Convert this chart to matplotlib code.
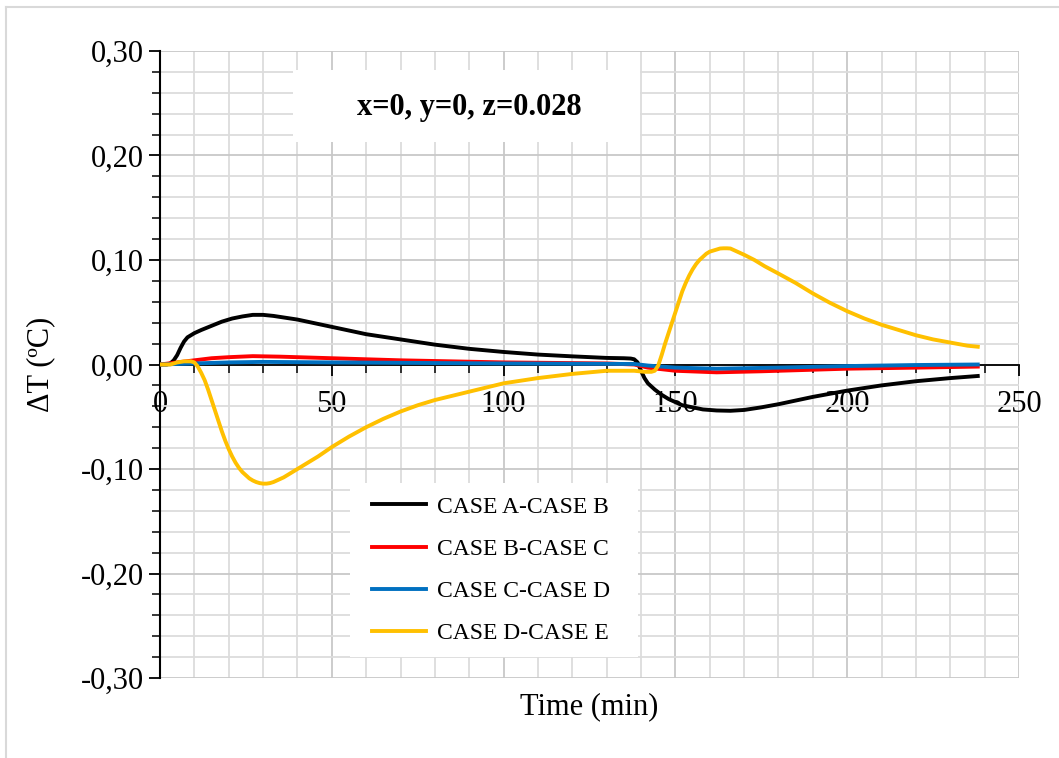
import matplotlib
matplotlib.use("Agg")
import matplotlib.pyplot as plt
from matplotlib.ticker import MultipleLocator, FuncFormatter
from matplotlib.patches import Rectangle
from matplotlib.lines import Line2D

plt.rcParams['font.family'] = ['Liberation Serif', 'DejaVu Serif']

# data
t_ab = [0, 2, 3, 4, 5, 6, 7, 8, 10, 12, 15, 18, 21, 24, 27, 30, 33, 36, 40, 45, 50, 55, 60, 70,
        80, 90, 100, 110, 120, 130, 135, 137, 138, 139, 140, 141, 142, 144, 146, 148, 150, 152,
        155, 158, 162, 166, 170, 175, 180, 190, 200, 210, 220, 230, 238]
d_ab = [0, 0, 0.001, 0.004, 0.009, 0.016, 0.022, 0.026, 0.030, 0.033, 0.037, 0.041, 0.044,
        0.046, 0.0475, 0.0475, 0.0465, 0.045, 0.043, 0.0395, 0.036, 0.0325, 0.029, 0.024,
        0.019, 0.015, 0.012, 0.0095, 0.0078, 0.0063, 0.006, 0.0057, 0.005, 0.002, -0.006,
        -0.013, -0.018, -0.024, -0.029, -0.033, -0.036, -0.039, -0.041, -0.043, -0.044,
        -0.0443, -0.0435, -0.041, -0.038, -0.031, -0.025, -0.020, -0.016, -0.013, -0.011]

t_bc = [0, 5, 10, 15, 20, 27, 35, 50, 70, 100, 130, 138, 142, 150, 162, 175, 200, 220, 238]
d_bc = [0, 0.002, 0.004, 0.006, 0.007, 0.008, 0.0075, 0.006, 0.004, 0.002, 0.001, 0.0,
        -0.003, -0.006, -0.0075, -0.0065, -0.004, -0.003, -0.002]

t_cd = [0, 10, 20, 30, 50, 100, 138, 142, 150, 162, 180, 200, 220, 238]
d_cd = [0, 0.001, 0.002, 0.0025, 0.002, 0.001, 0.0005, -0.001, -0.003, -0.004, -0.003,
        -0.0015, -0.0005, 0.0]

t_de = [0, 3, 5, 7, 9, 10, 11, 12, 13, 14, 15, 16, 17, 18, 19, 20, 21, 22, 23, 24, 25, 26,
        27, 28, 29, 30, 31, 32, 33, 34, 36, 38, 40, 43, 46, 50, 55, 60, 65, 70, 75, 80, 90,
        100, 110, 120, 130, 138, 141, 143, 144, 145, 146, 147, 148, 149, 150, 151, 152, 153,
        154, 155, 156, 157, 158, 159, 160, 161, 162, 163, 164, 165, 166, 168, 170, 173, 176,
        180, 185, 190, 195, 200, 205, 210, 215, 220, 225, 230, 235, 238]
d_de = [0, 0.0, 0.002, 0.003, 0.003, 0.002, -0.002, -0.008, -0.015, -0.024, -0.034, -0.044,
        -0.054, -0.064, -0.073, -0.081, -0.088, -0.094, -0.099, -0.103, -0.106, -0.109,
        -0.111, -0.1125, -0.1135, -0.114, -0.114, -0.1135, -0.1125, -0.111, -0.108, -0.104,
        -0.100, -0.094, -0.088, -0.079, -0.069, -0.060, -0.052, -0.045, -0.039, -0.034, -0.026,
        -0.018, -0.013, -0.009, -0.006, -0.006, -0.007, -0.007, -0.006, -0.001, 0.009, 0.020,
        0.030, 0.040, 0.050, 0.060, 0.070, 0.078, 0.085, 0.091, 0.096, 0.100, 0.103, 0.106,
        0.108, 0.109, 0.110, 0.111, 0.1112, 0.1112, 0.111, 0.108, 0.105, 0.100, 0.094,
        0.087, 0.078, 0.068, 0.059, 0.051, 0.044, 0.038, 0.033, 0.028, 0.024, 0.021, 0.018, 0.017]

labels = ['CASE A-CASE B', 'CASE B-CASE C', 'CASE C-CASE D', 'CASE D-CASE E']
colors = ['#000000', '#FF0000', '#0070C0', '#FFC000']

fig = plt.figure(figsize=(10.59, 7.58), dpi=100)
ax = fig.add_axes([160/1059, 1-678/758, 859/1059, 627/758])

for tx, dy, lab, col in zip([t_ab, t_bc, t_cd, t_de], [d_ab, d_bc, d_cd, d_de], labels, colors):
    ax.plot(tx, dy, color=col, lw=2.8, label=lab, zorder=3, solid_joinstyle='round')

ax.set_xlim(0, 250)
ax.set_ylim(-0.30, 0.30)
ax.xaxis.set_major_locator(MultipleLocator(50))
ax.xaxis.set_minor_locator(MultipleLocator(10))
ax.yaxis.set_major_locator(MultipleLocator(0.10))
ax.yaxis.set_minor_locator(MultipleLocator(0.02))
ax.yaxis.set_major_formatter(FuncFormatter(lambda v, p: f"{v:.2f}".replace('.', ',').replace('-0,00', '0,00')))

ax.grid(which='major', color='#c8c8c8', lw=1.3, zorder=0)
ax.grid(which='minor', color='#dcdcdc', lw=1.3, zorder=0)
ax.set_axisbelow(True)

ax.spines['top'].set_visible(False)
ax.spines['right'].set_visible(False)
ax.spines['bottom'].set_position(('data', 0))
ax.spines['bottom'].set_linewidth(1.3)
ax.spines['left'].set_linewidth(1.5)
ax.spines['bottom'].set_zorder(2.5)

ax.tick_params(axis='both', which='major', labelsize=22, width=1.3, length=8, direction='out')
ax.tick_params(axis='both', which='minor', width=1.1, length=6, direction='out')
ax.tick_params(axis='x', which='major', pad=10)

ax.set_xlabel('Time (min)', fontsize=22)
ax.xaxis.set_label_coords(0.5, -0.022)
ax.set_ylabel('ΔT (ºC)', fontsize=22)
ax.yaxis.set_label_coords(-0.122, 0.5)

# title box
ax.add_patch(Rectangle((293/1059, 1-142/758), 347/1059, 72/758, transform=fig.transFigure,
                       facecolor='white', edgecolor='none', zorder=1))
fig.text(469/1059, 1-108/758, 'x=0, y=0, z=0.028', fontsize=22, fontweight='bold',
         ha='center', va='center')

# legend box
ax.add_patch(Rectangle((350/1059, 1-657/758), 288/1059, 174/758, transform=fig.transFigure,
                       facecolor='white', edgecolor='none', zorder=1))
leg = ax.legend(loc='upper left', bbox_to_anchor=(372/1059, 1-496/758), bbox_transform=fig.transFigure,
                fontsize=17, frameon=False, handlelength=2.3, labelspacing=0.88, borderpad=0,
                borderaxespad=0, handletextpad=0.45)
leg.set_zorder(4)

fig.add_artist(Line2D([6/1059, 6/1059], [0, 1-7/758], color='#d9d9d9', lw=1.5))
fig.add_artist(Line2D([6/1059, 1], [1-7/758, 1-7/758], color='#d9d9d9', lw=1.5))

fig.savefig('out.png', dpi=100)
